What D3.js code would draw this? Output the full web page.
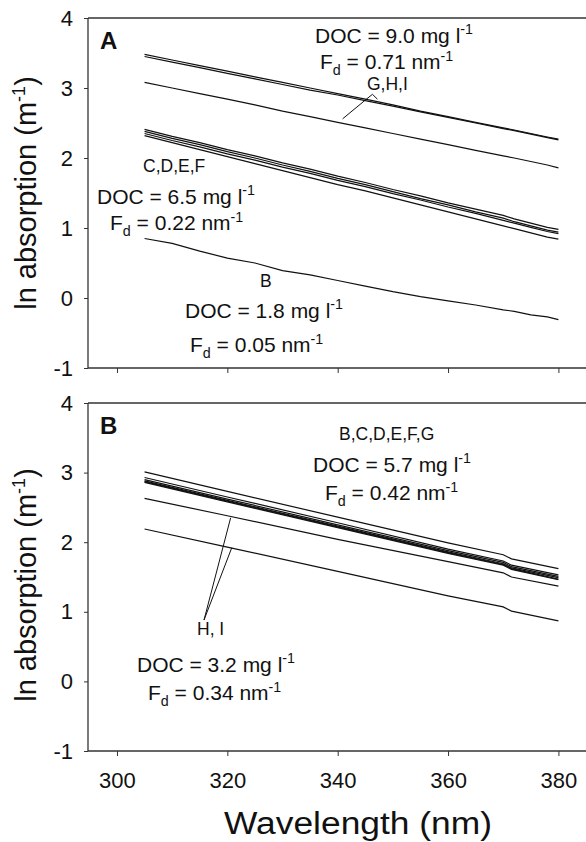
<!DOCTYPE html>
<html>
<head>
<meta charset="utf-8">
<script src="https://cdn.jsdelivr.net/npm/d3@7"></script>
<style>
  body { margin: 0; background: #fff; }
  svg text { font-family: "Liberation Sans", Arial, sans-serif; fill: #111; }
</style>
</head>
<body>
<div id="chart"></div>
<script>
// wavelengths (nm) where each spectrum was read
var wlA = [305, 310, 315, 320, 325, 330, 335, 340, 345, 350, 355, 360, 365, 370, 372, 375, 378, 380];
// panel A: ln absorption (m-1)
var seriesA = [
  [3.48, 3.40, 3.32, 3.24, 3.16, 3.08, 3.00, 2.92, 2.84, 2.76, 2.67, 2.59, 2.51, 2.43, 2.40, 2.35, 2.30, 2.27],
  [3.45, 3.37, 3.29, 3.21, 3.13, 3.05, 2.97, 2.90, 2.82, 2.74, 2.66, 2.58, 2.50, 2.42, 2.39, 2.34, 2.29, 2.26],
  [3.08, 3.00, 2.92, 2.84, 2.76, 2.67, 2.59, 2.51, 2.43, 2.35, 2.27, 2.19, 2.11, 2.03, 2.00, 1.95, 1.90, 1.86],
  [2.41, 2.31, 2.22, 2.12, 2.03, 1.93, 1.84, 1.74, 1.65, 1.55, 1.46, 1.36, 1.27, 1.18, 1.13, 1.07, 1.01, 0.98],
  [2.38, 2.28, 2.19, 2.09, 2.00, 1.90, 1.81, 1.71, 1.62, 1.52, 1.42, 1.33, 1.23, 1.14, 1.09, 1.03, 0.97, 0.94],
  [2.35, 2.25, 2.16, 2.06, 1.97, 1.87, 1.78, 1.68, 1.59, 1.49, 1.40, 1.30, 1.21, 1.11, 1.07, 1.01, 0.95, 0.92],
  [2.32, 2.22, 2.12, 2.02, 1.92, 1.82, 1.72, 1.62, 1.53, 1.43, 1.33, 1.23, 1.13, 1.03, 0.99, 0.93, 0.87, 0.84],
  [0.85, 0.78, 0.67, 0.57, 0.50, 0.39, 0.33, 0.25, 0.17, 0.09, 0.02, -0.04, -0.10, -0.17, -0.19, -0.24, -0.27, -0.31]
];

var wlB = [305, 320, 340, 360, 370, 371.5, 380];
// panel B: ln absorption (m-1)
var seriesB = [
  [3.01, 2.73, 2.36, 1.99, 1.82, 1.76, 1.62],
  [2.93, 2.65, 2.28, 1.90, 1.73, 1.67, 1.53],
  [2.90, 2.62, 2.25, 1.88, 1.71, 1.65, 1.51],
  [2.88, 2.60, 2.23, 1.86, 1.69, 1.63, 1.49],
  [2.87, 2.59, 2.22, 1.85, 1.68, 1.62, 1.47],
  [2.86, 2.58, 2.21, 1.84, 1.67, 1.61, 1.46],
  [2.63, 2.38, 2.04, 1.72, 1.56, 1.50, 1.37],
  [2.19, 1.93, 1.58, 1.23, 1.07, 1.01, 0.87]
];

var xTicks = [300, 320, 340, 360, 380];
var yTicks = [-1, 0, 1, 2, 3, 4];

var width = 586, height = 842;
var left = 88, right = 586;

var svg = d3.select("#chart").append("svg")
  .attr("width", width)
  .attr("height", height);

var x = d3.scaleLinear().domain([294.75, 385]).range([left, right]);

// one panel: frame, axes, lines
function drawPanel(top, bottom, wl, series, letter, showLabels) {
  var y = d3.scaleLinear().domain([-1, 4]).range([bottom, top]);
  var g = svg.append("g");

  // top frame line
  g.append("line")
    .attr("x1", left).attr("x2", right)
    .attr("y1", top).attr("y2", top)
    .attr("stroke", "#333").attr("stroke-width", 1.3);

  var xAxis = d3.axisBottom(x).tickValues(xTicks).tickSize(5).tickPadding(16)
    .tickFormat(showLabels ? function(d) { return String(d); } : "");
  var gx = g.append("g")
    .attr("transform", "translate(0," + bottom + ")")
    .call(xAxis);
  gx.select(".domain").attr("d", "M" + left + ",0H" + right)
    .attr("stroke", "#333").attr("stroke-width", 1.3);
  gx.selectAll(".tick line").attr("stroke", "#333");
  gx.selectAll("text").attr("font-size", 22).style("font-family", "Liberation Sans, Arial, sans-serif");

  var yAxis = d3.axisLeft(y).tickValues(yTicks).tickSize(4).tickPadding(11)
    .tickFormat(function(d) { return String(d); });
  var gy = g.append("g")
    .attr("transform", "translate(" + left + ",0)")
    .call(yAxis);
  gy.select(".domain").attr("d", "M0," + top + "V" + bottom)
    .attr("stroke", "#333").attr("stroke-width", 1.3);
  gy.selectAll(".tick line").attr("stroke", "#333");
  gy.selectAll("text").attr("font-size", 22).style("font-family", "Liberation Sans, Arial, sans-serif");

  var line = d3.line()
    .x(function(d, i) { return x(wl[i]); })
    .y(function(d) { return y(d); });

  g.selectAll("path.spec")
    .data(series)
    .enter()
    .append("path")
    .attr("class", "spec")
    .attr("d", line)
    .attr("fill", "none")
    .attr("stroke", "#111")
    .attr("stroke-width", 1.2);

  g.append("text")
    .attr("x", left + 12)
    .attr("y", y(4) + 31)
    .attr("font-size", 24)
    .attr("font-weight", "bold")
    .text(letter);

  return { g: g, y: y };
}

// label helper: DOC / Fd with superscripts and subscripts
function docLabel(g, px, py, value, size) {
  var t = g.append("text").attr("x", px).attr("y", py).attr("font-size", size);
  t.append("tspan").text("DOC = " + value + " mg l");
  t.append("tspan").attr("dy", -9).attr("font-size", size * 0.68).text("-1");
}
function fdLabel(g, px, py, value, size) {
  var t = g.append("text").attr("x", px).attr("y", py).attr("font-size", size);
  t.append("tspan").text("F");
  t.append("tspan").attr("dy", 6).attr("font-size", size * 0.68).text("d");
  t.append("tspan").attr("dy", -6).text(" = " + value + " nm");
  t.append("tspan").attr("dy", -8).attr("font-size", size * 0.68).text("-1");
}
function smallLabel(g, px, py, txt) {
  g.append("text").attr("x", px).attr("y", py).attr("font-size", 17.5).text(txt);
}

var A = drawPanel(18, 368, wlA, seriesA, "A", false);
var B = drawPanel(403, 751, wlB, seriesB, "B", true);

var fs = 21;
// panel A annotations
docLabel(A.g, 315, 43, "9.0", fs);
fdLabel(A.g, 320, 69, "0.71", fs);
smallLabel(A.g, 367, 90, "G,H,I");
var ptrA = [[340.9, 2.56], [345.2, 2.84], [346.3, 2.91], [347.2, 2.84]];
A.g.append("path")
  .attr("d", d3.line().x(function(d) { return x(d[0]); }).y(function(d) { return A.y(d[1]); })(ptrA))
  .attr("fill", "none").attr("stroke", "#111").attr("stroke-width", 1);

smallLabel(A.g, 143, 172, "C,D,E,F");
docLabel(A.g, 97, 204, "6.5", fs);
fdLabel(A.g, 110, 230, "0.22", fs);

smallLabel(A.g, 260, 287, "B");
docLabel(A.g, 185, 318, "1.8", fs);
fdLabel(A.g, 190, 352, "0.05", fs);

// panel B annotations
smallLabel(B.g, 339, 440, "B,C,D,E,F,G");
docLabel(B.g, 313, 472, "5.7", fs);
fdLabel(B.g, 325, 500, "0.42", fs);

smallLabel(B.g, 197, 635, "H, I");
var hx = x.invert(204), hy = B.y.invert(620);
[[320.6, 2.35], [320.8, 1.92]].forEach(function(p) {
  B.g.append("line")
    .attr("x1", x(hx)).attr("y1", B.y(hy))
    .attr("x2", x(p[0])).attr("y2", B.y(p[1]))
    .attr("stroke", "#111").attr("stroke-width", 1);
});
docLabel(B.g, 137, 672, "3.2", fs);
fdLabel(B.g, 148, 700, "0.34", fs);

// axis titles
function yTitle(cy) {
  var t = svg.append("text")
    .attr("transform", "translate(36," + cy + ") rotate(-90)")
    .attr("text-anchor", "middle")
    .attr("font-size", 29);
  t.append("tspan").text("ln absorption (m");
  t.append("tspan").attr("dy", -11).attr("font-size", 18).text("-1");
  t.append("tspan").attr("dy", 11).text(")");
}
yTitle(193);
yTitle(585);

svg.append("text")
  .attr("x", 358)
  .attr("y", 834)
  .attr("text-anchor", "middle")
  .attr("font-size", 31)
  .attr("textLength", 268)
  .attr("lengthAdjust", "spacingAndGlyphs")
  .text("Wavelength (nm)");
</script>
</body>
</html>
